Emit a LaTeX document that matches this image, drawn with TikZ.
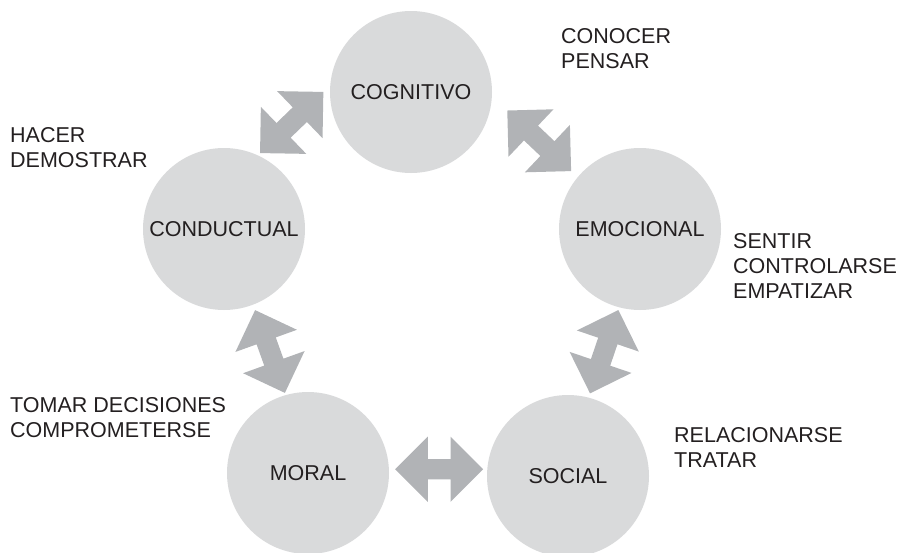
\documentclass[tikz,border=0pt]{standalone}
\usepackage{fontspec}
\setmainfont{Liberation Sans}
\usetikzlibrary{shapes.arrows}

\definecolor{discgray}{HTML}{D9DADB}
\definecolor{arrowgray}{HTML}{B1B3B6}
\definecolor{inkgray}{HTML}{231F20}

\tikzset{
  area/.style={circle, fill=discgray, minimum size=162pt, inner sep=0pt, text=inkgray},
  link/.style={double arrow, fill=arrowgray, minimum height=88pt, minimum width=0pt,
    inner xsep=0pt, inner ysep=10pt, double arrow head extend=22.5pt, double arrow tip angle=90},
  verbs/.style={anchor=base west, align=left, inner sep=0pt, text=inkgray},
}

\begin{document}
\begin{tikzpicture}[x=1pt, y=-1pt, font=\fontsize{21.5}{25}\selectfont]
    \useasboundingbox (0,0) rectangle (905,552);

    % the five areas
    \node[area] (cog) at (411,92)  {COGNITIVO};
    \node[area] (con) at (224,229) {CONDUCTUAL};
    \node[area] (emo) at (640,229) {EMOCIONAL};
    \node[area] (mor) at (308,473) {MORAL};
    \node[area] (soc) at (568,476) {SOCIAL};

    % two-way links between neighbours
    \node[link, rotate=44]    (cogcon) at (291.7,122.5) {};
    \node[link, rotate=-43.5] (cogemo) at (539.2,140.8) {};
    \node[link, rotate=-70.2] (conmor) at (270,351.5)   {};
    \node[link, rotate=71.2]  (emosoc) at (604.2,351.7) {};
    \node[link]               (morsoc) at (439.2,469.2) {};

    % what each area means (placed at the last baseline)
    \node[verbs] (cogtxt) at (561,68)  {CONOCER\\PENSAR};
    \node[verbs] (contxt) at (10,167)  {HACER\\DEMOSTRAR};
    \node[verbs] (emotxt) at (733,298) {SENTIR\\CONTROLARSE\\EMPATIZAR};
    \node[verbs] (mortxt) at (10,437)  {TOMAR DECISIONES\\COMPROMETERSE};
    \node[verbs] (soctxt) at (674,467) {RELACIONARSE\\TRATAR};
\end{tikzpicture}
\end{document}
